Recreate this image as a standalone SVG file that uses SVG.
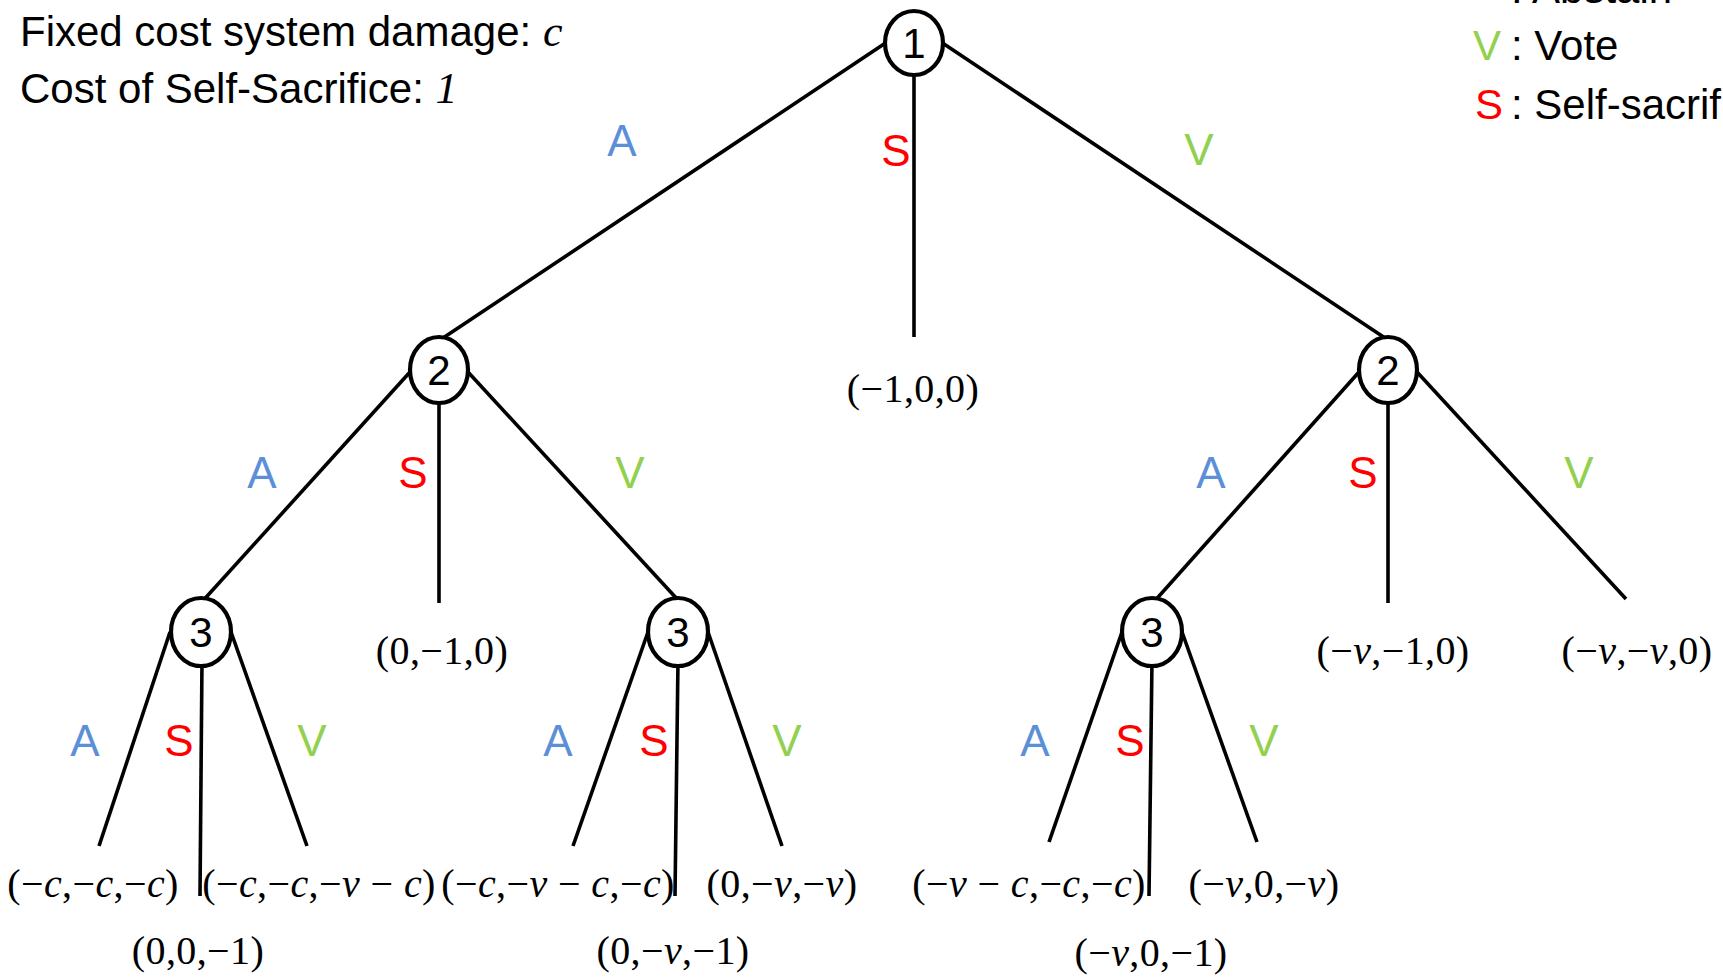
<svg xmlns="http://www.w3.org/2000/svg" width="1723" height="977" viewBox="0 0 1723 977">
<style>
.e{stroke:#000;stroke-width:3.6;fill:none;stroke-linecap:butt}
.n{fill:#fff;stroke:#000;stroke-width:4.2}
.d{font-family:"Liberation Sans",Arial,sans-serif;font-size:42px;text-anchor:middle;fill:#000}
.l{font-family:"Liberation Sans",Arial,sans-serif;font-size:44px;text-anchor:middle}
.p{font-family:"Liberation Serif","Times New Roman",serif;font-size:40px;text-anchor:middle;fill:#000;letter-spacing:0.4px}
.i{font-style:italic}
.t{font-family:"Liberation Sans",Arial,sans-serif;font-size:42px;fill:#000}
.A{fill:#5B8FD8}.S{fill:#FF0000}.V{fill:#92D050}
</style>
<rect width="1723" height="977" fill="#fff"/>
<g id="legend">
<text class="t" x="20" y="46">Fixed cost system damage: <tspan font-family="Liberation Serif" font-style="italic" font-size="44">c</tspan></text>
<text class="t" x="20" y="103">Cost of Self-Sacrifice: <tspan font-family="Liberation Serif" font-style="italic" font-size="44">1</tspan></text>
<text class="t A" x="1473" y="0">A</text><text class="t" x="1511" y="3">: Abstain</text>
<text class="t V" x="1473" y="60">V</text><text class="t" x="1511" y="60">: Vote</text>
<text class="t S" x="1475" y="119">S</text><text class="t" x="1511" y="119">: Self-sacrif</text>
</g>
<g id="connectors">
<line class="e" x1="884" y1="44" x2="440" y2="340"/>
<line class="e" x1="914" y1="70" x2="914" y2="337"/>
<line class="e" x1="944" y1="44" x2="1388" y2="340"/>
<line class="e" x1="410" y1="372" x2="200" y2="604"/>
<line class="e" x1="439" y1="398" x2="439" y2="603"/>
<line class="e" x1="468" y1="372" x2="678" y2="600"/>
<line class="e" x1="1359" y1="372" x2="1152" y2="604"/>
<line class="e" x1="1388" y1="398" x2="1388" y2="603"/>
<line class="e" x1="1417" y1="372" x2="1626" y2="599"/>
<line class="e" x1="170" y1="632" x2="99" y2="846"/>
<line class="e" x1="202" y1="660" x2="200" y2="896"/>
<line class="e" x1="231" y1="632" x2="307" y2="846"/>
<line class="e" x1="648" y1="632" x2="573" y2="846"/>
<line class="e" x1="678" y1="660" x2="675" y2="896"/>
<line class="e" x1="708" y1="632" x2="782" y2="846"/>
<line class="e" x1="1122" y1="632" x2="1049" y2="842"/>
<line class="e" x1="1152" y1="660" x2="1149" y2="896"/>
<line class="e" x1="1182" y1="632" x2="1257" y2="842"/>
</g>
<g id="edge-labels">
<text class="l A" x="622" y="156">A</text>
<text class="l S" x="896" y="166">S</text>
<text class="l V" x="1199" y="165">V</text>
<text class="l A" x="262" y="488">A</text>
<text class="l S" x="413" y="488">S</text>
<text class="l V" x="630" y="488">V</text>
<text class="l A" x="1211" y="488">A</text>
<text class="l S" x="1363" y="488">S</text>
<text class="l V" x="1579" y="488">V</text>
<text class="l A" x="85" y="756">A</text>
<text class="l S" x="179" y="756">S</text>
<text class="l V" x="312" y="756">V</text>
<text class="l A" x="558" y="756">A</text>
<text class="l S" x="654" y="756">S</text>
<text class="l V" x="787" y="756">V</text>
<text class="l A" x="1035" y="756">A</text>
<text class="l S" x="1130" y="756">S</text>
<text class="l V" x="1264" y="756">V</text>
</g>
<g id="node-1"><ellipse class="n" cx="914" cy="43" rx="29" ry="32"/><text class="d" x="914" y="58">1</text></g>
<g id="node-2a"><ellipse class="n" cx="439" cy="370" rx="29" ry="33"/><text class="d" x="439" y="385">2</text></g>
<g id="node-2b"><ellipse class="n" cx="1388" cy="370" rx="29" ry="33"/><text class="d" x="1388" y="385">2</text></g>
<g id="node-3a"><ellipse class="n" cx="201" cy="632" rx="30" ry="34"/><text class="d" x="201" y="647">3</text></g>
<g id="node-3b"><ellipse class="n" cx="678" cy="632" rx="30" ry="34"/><text class="d" x="678" y="647">3</text></g>
<g id="node-3c"><ellipse class="n" cx="1152" cy="632" rx="30" ry="34"/><text class="d" x="1152" y="647">3</text></g>
<g id="payoffs">
<text class="p" x="913" y="402">(−1,0,0)</text>
<text class="p" x="442" y="664">(0,−1,0)</text>
<text class="p" x="1393" y="664">(−<tspan class="i">v</tspan>,−1,0)</text>
<text class="p" x="1637" y="664">(−<tspan class="i">v</tspan>,−<tspan class="i">v</tspan>,0)</text>
<text class="p" x="93" y="897">(−<tspan class="i">c</tspan>,−<tspan class="i">c</tspan>,−<tspan class="i">c</tspan>)</text>
<text class="p" x="319" y="897">(−<tspan class="i">c</tspan>,−<tspan class="i">c</tspan>,−<tspan class="i">v</tspan> − <tspan class="i">c</tspan>)</text>
<text class="p" x="198" y="964">(0,0,−1)</text>
<text class="p" x="558" y="897">(−<tspan class="i">c</tspan>,−<tspan class="i">v</tspan> − <tspan class="i">c</tspan>,−<tspan class="i">c</tspan>)</text>
<text class="p" x="782" y="897">(0,−<tspan class="i">v</tspan>,−<tspan class="i">v</tspan>)</text>
<text class="p" x="673" y="964">(0,−<tspan class="i">v</tspan>,−1)</text>
<text class="p" x="1029" y="897">(−<tspan class="i">v</tspan> − <tspan class="i">c</tspan>,−<tspan class="i">c</tspan>,−<tspan class="i">c</tspan>)</text>
<text class="p" x="1264" y="897">(−<tspan class="i">v</tspan>,0,−<tspan class="i">v</tspan>)</text>
<text class="p" x="1151" y="966">(−<tspan class="i">v</tspan>,0,−1)</text>
</g>
</svg>
